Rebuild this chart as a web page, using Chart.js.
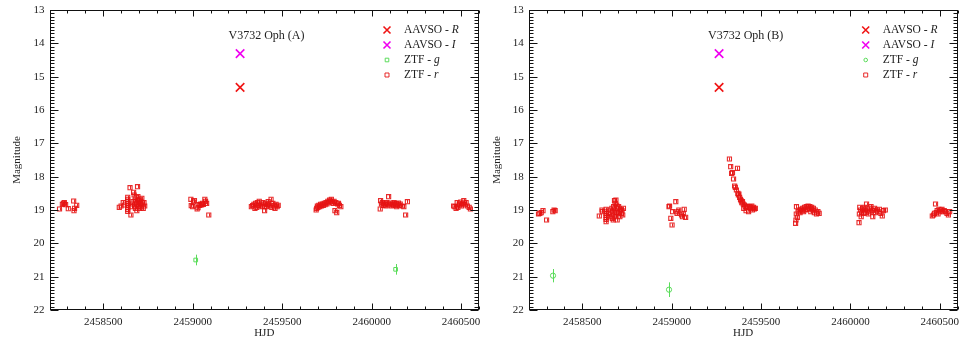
<!DOCTYPE html>
<html>
<head>
<meta charset="utf-8">
<script src="https://cdn.jsdelivr.net/npm/chart.js@4.4.1/dist/chart.umd.min.js"></script>
<style>
html, body { margin: 0; padding: 0; background: #fff; }
#wrap { position: relative; width: 959px; height: 340px; }
canvas { position: absolute; top: 0; }
</style>
</head>
<body>
<div id="wrap">
  <canvas id="panelA" width="480" height="340" style="left:0"></canvas>
  <canvas id="panelB" width="479" height="340" style="left:480px"></canvas>
</div>
<script>
// axis ranges and labelled ticks
const HJD_MIN = 2458200, HJD_MAX = 2460600;
const MAG_MIN = 13, MAG_MAX = 22;
const xTickValues = [2458500, 2459000, 2459500, 2460000, 2460500];
const yTickValues = [13, 14, 15, 16, 17, 18, 19, 20, 21, 22];

// AAVSO points (same in both panels)
const aavsoR = [[2459265, 15.32]];
const aavsoI = [[2459265, 14.31]];

// ZTF g, [HJD, mag] and errors
const ztfgA = [[2459017, 20.50], [2460134, 20.78]];
const ztfgAErr = [0.16, 0.16];
const ztfgB = [[2458336, 20.97], [2458985, 21.39]];
const ztfgBErr = [0.20, 0.22];

// ZTF r, panel A
const ztfrA = [
  [2458256, 18.97], [2458272, 18.83], [2458278, 18.80], [2458283, 18.78], [2458290, 18.84],
  [2458305, 18.96], [2458335, 18.73], [2458337, 19.02], [2458340, 18.95], [2458352, 18.86],
  [2458590, 18.92], [2458600, 18.88], [2458612, 18.78], [2458620, 18.85],
  [2458637, 18.62], [2458637, 18.68], [2458637, 18.74], [2458637, 18.80], [2458637, 18.86],
  [2458637, 18.92], [2458637, 18.98], [2458637, 19.04],
  [2458650, 18.33], [2458655, 19.15], [2458660, 18.90], [2458663, 18.82], [2458667, 18.75],
  [2458670, 18.47], [2458673, 18.55], [2458675, 18.88], [2458678, 18.70], [2458680, 18.95],
  [2458683, 18.62], [2458685, 18.82], [2458688, 19.02], [2458690, 18.78], [2458692, 18.30],
  [2458694, 18.60], [2458696, 18.90], [2458698, 18.72], [2458700, 18.85], [2458702, 18.68],
  [2458705, 18.95], [2458708, 18.80], [2458710, 18.74], [2458713, 18.90], [2458716, 18.65],
  [2458720, 18.82], [2458724, 18.95], [2458728, 18.78], [2458732, 18.88],
  [2458990, 18.68], [2458992, 18.87], [2459000, 18.90], [2459005, 18.76], [2459010, 18.72],
  [2459025, 18.97], [2459030, 18.93], [2459035, 18.84], [2459040, 18.86], [2459045, 18.82],
  [2459050, 18.85], [2459055, 18.80], [2459060, 18.83], [2459068, 18.68], [2459072, 18.74],
  [2459078, 18.80], [2459090, 19.15],
  [2459328, 18.90], [2459335, 18.87], [2459342, 18.83], [2459348, 18.95], [2459352, 18.80],
  [2459358, 18.92], [2459362, 18.78], [2459368, 18.86], [2459372, 18.74], [2459378, 18.88],
  [2459382, 18.82], [2459388, 18.90], [2459392, 18.78], [2459398, 18.85], [2459402, 19.02],
  [2459408, 18.80], [2459412, 18.90], [2459418, 18.83], [2459422, 18.75], [2459428, 18.88],
  [2459432, 18.85], [2459438, 18.68], [2459442, 18.92], [2459448, 18.80], [2459455, 18.87],
  [2459460, 18.95], [2459466, 18.83], [2459472, 18.90], [2459478, 18.86],
  [2459690, 19.00], [2459693, 18.95], [2459697, 18.88], [2459700, 18.92], [2459705, 18.86],
  [2459710, 18.90], [2459715, 18.83], [2459720, 18.88], [2459725, 18.82], [2459730, 18.86],
  [2459735, 18.80], [2459740, 18.84], [2459745, 18.78], [2459750, 18.82], [2459755, 18.74],
  [2459760, 18.78], [2459765, 18.70], [2459770, 18.73], [2459775, 18.68], [2459780, 18.76],
  [2459785, 18.80], [2459790, 18.74], [2459795, 19.02], [2459800, 18.78], [2459805, 19.08],
  [2459810, 18.82], [2459815, 18.80], [2459820, 18.86], [2459828, 18.90],
  [2460048, 18.97], [2460050, 18.72], [2460055, 18.82], [2460060, 18.78], [2460065, 18.86],
  [2460070, 18.80], [2460075, 18.84], [2460080, 18.88], [2460085, 18.78], [2460090, 18.82],
  [2460095, 18.60], [2460100, 18.85], [2460105, 18.79], [2460110, 18.88], [2460115, 18.82],
  [2460120, 18.84], [2460125, 18.78], [2460130, 18.86], [2460135, 18.81], [2460140, 18.90],
  [2460145, 18.83], [2460150, 18.79], [2460155, 18.86], [2460160, 18.82], [2460170, 18.88],
  [2460180, 18.90], [2460190, 19.15], [2460200, 18.75],
  [2460458, 18.88], [2460465, 18.90], [2460472, 18.95], [2460478, 18.78], [2460482, 18.92],
  [2460488, 18.85], [2460492, 18.82], [2460498, 18.76], [2460502, 18.88], [2460508, 18.80],
  [2460515, 18.72], [2460520, 18.84], [2460528, 18.78], [2460535, 18.88], [2460545, 18.92],
  [2460552, 18.97]
];

// ZTF r, panel B
const ztfrB = [
  [2458255, 19.12], [2458262, 19.10], [2458270, 19.08], [2458280, 19.02], [2458300, 19.30],
  [2458335, 19.05], [2458342, 19.00], [2458348, 19.02],
  [2458595, 19.18], [2458610, 19.00], [2458612, 19.05],
  [2458633, 18.98], [2458633, 19.04], [2458633, 19.10], [2458633, 19.16], [2458633, 19.22],
  [2458633, 19.28], [2458633, 19.35],
  [2458645, 19.10], [2458650, 19.20], [2458655, 19.00], [2458660, 19.12], [2458665, 18.95],
  [2458668, 19.25], [2458670, 19.05], [2458673, 19.30], [2458675, 18.90], [2458678, 19.15],
  [2458680, 18.72], [2458682, 19.00], [2458684, 18.80], [2458686, 19.20], [2458688, 18.70],
  [2458690, 19.08], [2458692, 18.85], [2458695, 19.30], [2458698, 18.95], [2458700, 19.12],
  [2458703, 18.90], [2458706, 19.05], [2458710, 19.20], [2458714, 18.98], [2458718, 19.10],
  [2458722, 19.02], [2458726, 19.15], [2458730, 18.95],
  [2458985, 18.90], [2458988, 18.88], [2458995, 19.25], [2459002, 19.45], [2459005, 19.05],
  [2459023, 18.75], [2459030, 19.10], [2459035, 19.05], [2459040, 19.00], [2459055, 19.15],
  [2459060, 19.20], [2459065, 19.12], [2459070, 18.98], [2459078, 19.22],
  [2459323, 17.47], [2459330, 17.70], [2459335, 17.90], [2459340, 17.88], [2459346, 18.07],
  [2459352, 18.28], [2459356, 18.32], [2459362, 18.40], [2459368, 17.75], [2459370, 18.50],
  [2459373, 18.55], [2459376, 18.52], [2459380, 18.62], [2459385, 18.68], [2459388, 18.72],
  [2459392, 18.78], [2459396, 18.75], [2459400, 18.82], [2459403, 18.95], [2459407, 18.85],
  [2459412, 18.90], [2459416, 19.02], [2459420, 18.88], [2459425, 18.92], [2459430, 19.05],
  [2459436, 18.90], [2459442, 18.95], [2459448, 18.88], [2459452, 19.00], [2459458, 18.92],
  [2459463, 18.97], [2459468, 18.95],
  [2459693, 19.40], [2459695, 19.30], [2459697, 19.12], [2459698, 18.90], [2459703, 19.22],
  [2459707, 19.05], [2459712, 19.00], [2459718, 19.08], [2459722, 18.98], [2459728, 19.02],
  [2459733, 18.95], [2459738, 19.05], [2459743, 18.92], [2459748, 19.00], [2459753, 18.90],
  [2459758, 18.98], [2459763, 18.88], [2459768, 18.95], [2459773, 18.90], [2459778, 19.05],
  [2459783, 18.92], [2459788, 19.00], [2459793, 18.95], [2459798, 19.08], [2459803, 19.00],
  [2459810, 19.12], [2459818, 19.05], [2459825, 19.10],
  [2460048, 19.38], [2460050, 19.12], [2460052, 18.92], [2460056, 19.00], [2460060, 19.20],
  [2460064, 19.05], [2460068, 18.95], [2460072, 19.10], [2460076, 19.00], [2460080, 18.92],
  [2460085, 19.08], [2460090, 18.82], [2460095, 19.00], [2460100, 19.12], [2460105, 18.95],
  [2460110, 19.05], [2460115, 18.90], [2460120, 19.00], [2460125, 19.20], [2460130, 19.02],
  [2460135, 18.95], [2460140, 19.08], [2460148, 19.00], [2460155, 19.05], [2460162, 18.98],
  [2460170, 19.10], [2460178, 19.18], [2460185, 19.02], [2460195, 19.00],
  [2460458, 19.18], [2460465, 19.15], [2460470, 19.10], [2460476, 18.82], [2460480, 19.08],
  [2460485, 19.02], [2460490, 19.12], [2460495, 18.98], [2460500, 19.05], [2460505, 19.00],
  [2460512, 18.98], [2460518, 19.05], [2460525, 19.02], [2460532, 19.05], [2460540, 19.10],
  [2460548, 19.15], [2460555, 19.05]
];
const ZTF_R_ERR = 0.05;

const SERIF = '"Liberation Serif", "DejaVu Serif", serif';
const RED = 'rgb(240,20,20)';
const MAGENTA = 'rgb(240,0,240)';
const GREEN = 'rgb(90,220,90)';
const RRED = 'rgba(230,20,20,0.9)';

const toXY = pts => pts.map(p => ({ x: p[0], y: p[1] }));

function legendMarker(ctx, style, color, r, x, y) {
    ctx.strokeStyle = color;
    ctx.lineWidth = style === 'crossRot' ? 1.6 : 1;
    ctx.beginPath();
    if (style === 'crossRot') {
        ctx.moveTo(x - r, y - r); ctx.lineTo(x + r, y + r);
        ctx.moveTo(x - r, y + r); ctx.lineTo(x + r, y - r);
    } else if (style === 'circle') {
        ctx.arc(x, y, r, 0, Math.PI * 2);
    } else {
        ctx.rect(x - r, y - r, 2 * r, 2 * r);
    }
    ctx.stroke();
}

const framePlugin = {
    id: 'frame',
    beforeDatasetsDraw(chart) {
        // vertical error bars
        const { ctx, chartArea: a, scales: { x, y } } = chart;
        ctx.save();
        ctx.beginPath();
        ctx.rect(a.left, a.top, a.right - a.left, a.bottom - a.top);
        ctx.clip();
        chart.data.datasets.forEach(ds => {
            if (!ds.errs) return;
            ctx.strokeStyle = ds.borderColor;
            ctx.lineWidth = 1;
            ds.data.forEach((p, i) => {
                const px = Math.round(x.getPixelForValue(p.x)) + 0.5;
                ctx.beginPath();
                ctx.moveTo(px, y.getPixelForValue(p.y - ds.errs[i]));
                ctx.lineTo(px, y.getPixelForValue(p.y + ds.errs[i]));
                ctx.stroke();
            });
        });
        ctx.restore();
    },
    afterDatasetsDraw(chart, args, opts) {
        const { ctx, chartArea: a, scales: { x, y } } = chart;
        ctx.save();
        ctx.strokeStyle = '#111';
        ctx.lineWidth = 1;
        const L = Math.round(a.left) + 0.5, R = Math.round(a.right) - 0.5;
        const T = Math.round(a.top) + 0.5, B = Math.round(a.bottom) - 0.5;
        ctx.strokeRect(L, T, R - L, B - T);

        // inward ticks, minor every 100 d and 0.1 mag
        ctx.beginPath();
        for (let v = HJD_MIN; v <= HJD_MAX; v += 100) {
            const px = Math.round(x.getPixelForValue(v)) + 0.5;
            const len = v % 500 === 0 ? 6 : 3;
            ctx.moveTo(px, B); ctx.lineTo(px, B - len);
            ctx.moveTo(px, T); ctx.lineTo(px, T + len);
        }
        for (let i = MAG_MIN * 10; i <= MAG_MAX * 10; i++) {
            const py = Math.round(y.getPixelForValue(i / 10)) + 0.5;
            const len = i % 10 === 0 ? 8 : 4;
            ctx.moveTo(L, py); ctx.lineTo(L + len, py);
            ctx.moveTo(R, py); ctx.lineTo(R - len, py);
        }
        ctx.stroke();

        // panel title
        ctx.fillStyle = '#222';
        ctx.font = '12px ' + SERIF;
        ctx.textAlign = 'center';
        ctx.textBaseline = 'middle';
        ctx.fillText(opts.title, a.left + 217, a.top + 26);

        // legend
        ctx.textAlign = 'left';
        opts.items.forEach((it, i) => {
            const ly = a.top + 20 + 15 * i;
            legendMarker(ctx, it.style, it.color, it.r, a.right - 92, ly);
            ctx.fillStyle = '#222';
            ctx.font = '11.5px ' + SERIF;
            ctx.fillText(it.text, a.right - 75, ly);
            const w = ctx.measureText(it.text).width;
            ctx.font = 'italic 11.5px ' + SERIF;
            ctx.fillText(it.band, a.right - 75 + w, ly);
        });
        ctx.restore();
    }
};

function makeChart(id, title, gPts, gErr, rPts, gStyle, yWidth, padRight) {
    const datasets = [
        { label: 'AAVSO - R', data: toXY(aavsoR), pointStyle: 'crossRot', pointRadius: 6,
          borderColor: RED, pointBorderWidth: 1.6, backgroundColor: 'transparent' },
        { label: 'AAVSO - I', data: toXY(aavsoI), pointStyle: 'crossRot', pointRadius: 6,
          borderColor: MAGENTA, pointBorderWidth: 1.6, backgroundColor: 'transparent' },
        { label: 'ZTF - g', data: toXY(gPts), errs: gErr, pointStyle: gStyle, pointRadius: 2.6,
          borderColor: GREEN, pointBorderWidth: 1, backgroundColor: 'transparent' },
        { label: 'ZTF - r', data: toXY(rPts), errs: rPts.map(() => ZTF_R_ERR), pointStyle: 'rect',
          pointRadius: 2.9, borderColor: RRED, pointBorderWidth: 1.1, backgroundColor: 'transparent' },
    ];
    return new Chart(document.getElementById(id), {
        type: 'scatter',
        data: { datasets },
        plugins: [framePlugin],
        options: {
            responsive: false,
            animation: false,
            events: [],
            layout: { autoPadding: false, padding: { top: 10, right: padRight, left: 0, bottom: 0 } },
            plugins: {
                legend: { display: false },
                tooltip: { enabled: false },
                frame: {
                    title,
                    items: [
                        { text: 'AAVSO - ', band: 'R', style: 'crossRot', color: RED, r: 3.5 },
                        { text: 'AAVSO - ', band: 'I', style: 'crossRot', color: MAGENTA, r: 3.5 },
                        { text: 'ZTF - ', band: 'g', style: gStyle, color: GREEN, r: 1.8 },
                        { text: 'ZTF - ', band: 'r', style: 'rect', color: RRED, r: 2 },
                    ],
                },
            },
            scales: {
                x: {
                    type: 'linear', min: HJD_MIN, max: HJD_MAX,
                    grid: { display: false, drawTicks: false }, border: { display: false },
                    afterBuildTicks: s => { s.ticks = xTickValues.map(v => ({ value: v })); },
                    afterFit: s => { s.height = 30; s.paddingLeft = 0; s.paddingRight = 0; },
                    ticks: { autoSkip: false, maxRotation: 0, padding: 6, color: '#222',
                             font: { family: SERIF, size: 11 }, callback: v => String(v) },
                    title: { display: true, text: 'HJD', color: '#222', padding: 0,
                             font: { family: SERIF, size: 11 } },
                },
                y: {
                    type: 'linear', reverse: true, min: MAG_MIN, max: MAG_MAX,
                    grid: { display: false, drawTicks: false }, border: { display: false },
                    afterBuildTicks: s => { s.ticks = yTickValues.map(v => ({ value: v })); },
                    afterFit: s => { s.width = yWidth; s.paddingTop = 0; s.paddingBottom = 0; },
                    ticks: { padding: 5, color: '#222', font: { family: SERIF, size: 11 } },
                    title: { display: true, text: 'Magnitude', color: '#222', padding: { top: 11 },
                             font: { family: SERIF, size: 11 } },
                },
            },
        },
    });
}

makeChart('panelA', 'V3732 Oph (A)', ztfgA, ztfgAErr, ztfrA, 'rect', 49.5, 1);
makeChart('panelB', 'V3732 Oph (B)', ztfgB, ztfgBErr, ztfrB, 'circle', 48.7, 1.3);
</script>
</body>
</html>
